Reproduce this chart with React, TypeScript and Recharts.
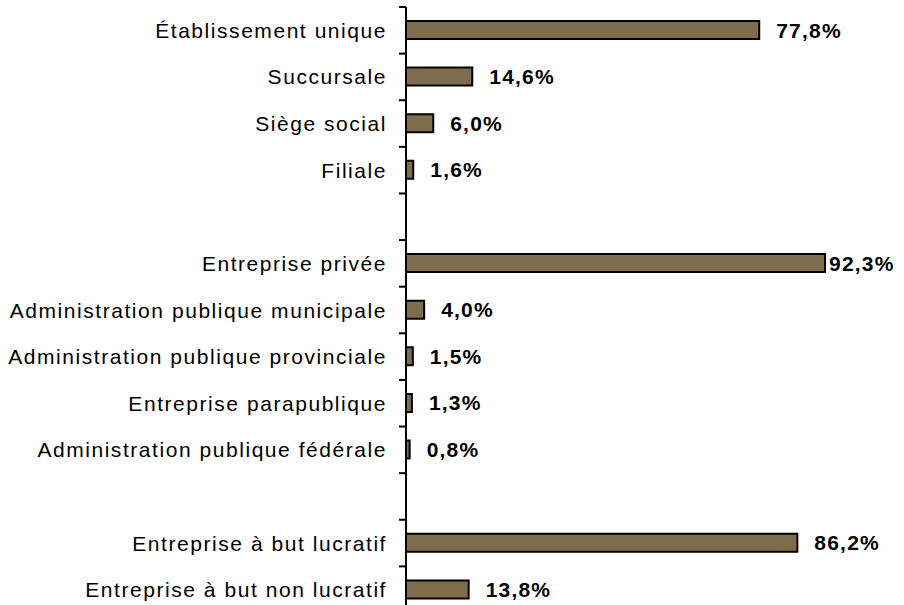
import React from 'react';
import { BarChart, Bar, XAxis, YAxis, LabelList } from 'recharts';

// catégories (les entrées vides servent d'espacement entre les groupes)
const categories = [
  'Établissement unique',
  'Succursale',
  'Siège social',
  'Filiale',
  ' ',
  'Entreprise privée',
  'Administration publique municipale',
  'Administration publique provinciale',
  'Entreprise parapublique',
  'Administration publique fédérale',
  '  ',
  'Entreprise à but lucratif',
  'Entreprise à but non lucratif',
];

const values: (number | null)[] = [77.8, 14.6, 6.0, 1.6, null, 92.3, 4.0, 1.5, 1.3, 0.8, null, 86.2, 13.8];

const data = categories.map((name, i) => ({ name, value: values[i] }));

const WIDTH = 904;
const HEIGHT = 613;
const TOP = 7;
const BAND = (HEIGHT - TOP) / categories.length;
const FONT = '"Liberation Sans", Arial, sans-serif';

const CategoryTick = (props: any) => {
  const { x, y, payload } = props;
  const yTop = y - BAND / 2;
  return (
    <g>
      <line x1={x - 7} x2={x} y1={yTop} y2={yTop} stroke="#000" strokeWidth={2} />
      <text
        x={x - 19}
        y={y}
        textAnchor="end"
        dominantBaseline="central"
        fontSize={21}
        letterSpacing={1.55}
        fontFamily={FONT}
        fill="#000"
      >
        {payload.value}
      </text>
    </g>
  );
};

const ValueLabel = (props: any) => {
  const { x, y, width, height, value } = props;
  if (value == null) return null;
  const end = x + width;
  const lx = end + 17 + 62 > WIDTH - 4 ? end + 4 : end + 17;
  return (
    <text
      x={lx}
      y={y + height / 2}
      dominantBaseline="central"
      fontSize={21}
      fontWeight="bold"
      letterSpacing={1.2}
      fontFamily={FONT}
      fill="#000"
    >
      {value.toFixed(1).replace('.', ',') + '%'}
    </text>
  );
};

export default function App() {
  return (
    <div style={{ position: 'absolute', left: 0, top: 0, width: WIDTH, height: 605, overflow: 'hidden', background: '#fff' }}>
      <BarChart
        width={WIDTH}
        height={HEIGHT}
        data={data}
        layout="vertical"
        margin={{ top: TOP, right: 44, left: 0, bottom: 0 }}
        barCategoryGap={0}
      >
        <XAxis type="number" domain={[0, 100]} hide />
        <YAxis
          type="category"
          dataKey="name"
          width={406}
          axisLine={{ stroke: '#000', strokeWidth: 2 }}
          tickLine={false}
          tickSize={0}
          tickMargin={0}
          interval={0}
          tick={<CategoryTick />}
        />
        <Bar dataKey="value" fill="#7f6c4c" stroke="#000" strokeWidth={2} barSize={18} isAnimationActive={false}>
          <LabelList dataKey="value" content={<ValueLabel />} />
        </Bar>
      </BarChart>
    </div>
  );
}
